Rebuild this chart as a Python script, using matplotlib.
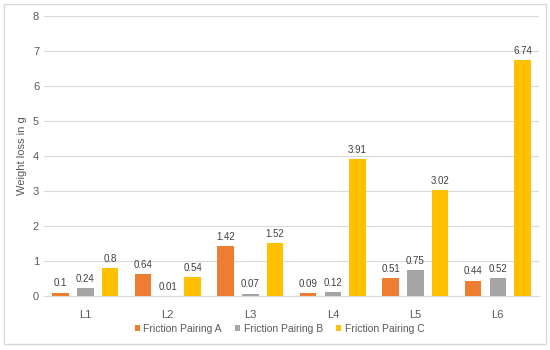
import numpy as np
import matplotlib
matplotlib.use('Agg')
import matplotlib.pyplot as plt
from matplotlib.patches import Rectangle

plt.rcParams['font.family'] = ['Liberation Sans', 'DejaVu Sans']

categories = ['L1', 'L2', 'L3', 'L4', 'L5', 'L6']
pairing_a = [0.1, 0.64, 1.42, 0.09, 0.51, 0.44]
pairing_b = [0.24, 0.01, 0.07, 0.12, 0.75, 0.52]
pairing_c = [0.8, 0.54, 1.52, 3.91, 3.02, 6.74]
series_names = ['Friction Pairing A', 'Friction Pairing B', 'Friction Pairing C']
colors = ['#ED7D31', '#A5A5A5', '#FFC000']

fig = plt.figure(figsize=(5.5, 3.5), dpi=100)
fig.patches.append(Rectangle((0.007, 0.017), 0.986, 0.972, transform=fig.transFigure,
                             fill=False, edgecolor='#D9D9D9', linewidth=1))
ax = fig.add_axes([0.08, 0.154, 0.90, 0.80])

x = np.arange(len(categories))
width = 0.2
offsets = [-0.3, 0, 0.3]
for vals, off, col, name in zip([pairing_a, pairing_b, pairing_c], offsets, colors, series_names):
    bars = ax.bar(x + off, vals, width=width, color=col, label=name, zorder=3)
    for b, v in zip(bars, vals):
        ax.text(b.get_x() + b.get_width() / 2, v + 0.12, f'{v:g}', ha='center', va='bottom',
                fontsize=7, color='#404040')

ax.set_xlim(-0.5, len(categories) - 0.5)
ax.set_ylim(0, 8)
ax.set_yticks(range(0, 9))
ax.set_xticks(x)
ax.set_xticklabels(categories)
ax.tick_params(axis='both', length=0, labelsize=8, colors='#595959')
ax.tick_params(axis='x', pad=10)
ax.grid(axis='y', color='#D9D9D9', linewidth=0.8, zorder=0)
for s in ['top', 'right', 'left']:
    ax.spines[s].set_visible(False)
ax.spines['bottom'].set_color('#D9D9D9')
ax.set_ylabel('Weight loss in g', fontsize=8, color='#595959', labelpad=4)

ax.legend(loc='upper center', bbox_to_anchor=(0.476, -0.065), ncol=3, frameon=False,
          fontsize=7.5, handlelength=0.5, handleheight=0.5, handletextpad=0.3,
          columnspacing=1.3, labelcolor='#595959')

fig.savefig('out.png', dpi=100)
